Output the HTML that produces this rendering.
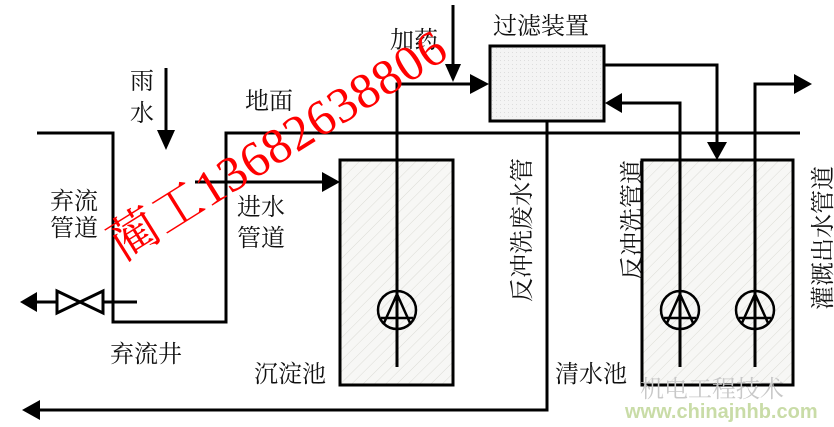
<!DOCTYPE html>
<html><head><meta charset="utf-8"><style>
html,body{margin:0;padding:0;background:#fff;}
svg{display:block;}
text{font-family:"Liberation Serif","Noto Serif CJK SC","Noto Sans CJK SC",serif;fill:#111;}
</style></head><body>
<svg width="834" height="427" viewBox="0 0 834 427" xmlns="http://www.w3.org/2000/svg">
<defs>
<pattern id="h" width="8" height="8" patternUnits="userSpaceOnUse" patternTransform="rotate(45)">
<rect width="8" height="8" fill="#f7f7f5"/><line x1="0" y1="0" x2="0" y2="8" stroke="#dcdcd6" stroke-width="1"/>
</pattern>
<pattern id="d" width="4" height="4" patternUnits="userSpaceOnUse">
<rect width="4" height="4" fill="#f4f4f4"/><rect width="1" height="1" fill="#ddd"/>
</pattern>
</defs>
<g stroke="#000" stroke-width="3" fill="none">
<polyline points="37,133 113,133 113,322 226,322 226,133 800,133"/>
<rect x="340" y="160" width="113" height="225" fill="url(#h)"/>
<rect x="642" y="160" width="151" height="225" fill="url(#h)"/>
<rect x="490" y="46" width="114" height="75" fill="url(#d)"/>
<line x1="166" y1="68" x2="166" y2="135"/>
<line x1="195" y1="182" x2="325" y2="182"/>
<polyline points="397,367 397,84 475,84"/>
<line x1="453" y1="5" x2="453" y2="68"/>
<polyline points="604,65 717,65 717,145"/>
<polyline points="680,367 680,103 620,103"/>
<polyline points="755,367 755,84 797,84"/>
<polyline points="547,121 547,410 38,410"/>
<line x1="137" y1="302" x2="103" y2="302"/>
<line x1="57" y1="302" x2="35" y2="302"/>
<polygon points="57,291 80,302 57,313" />
<polygon points="103,291 80,302 103,313" />
<g stroke-width="2.5">
<circle cx="397" cy="310" r="19"/><polyline points="384,323 397,294 410,323"/><line x1="381" y1="318" x2="413" y2="318"/>
<circle cx="680" cy="310" r="19"/><polyline points="667,323 680,294 693,323"/><line x1="664" y1="318" x2="696" y2="318"/>
<circle cx="755" cy="310" r="19"/><polyline points="742,323 755,294 768,323"/><line x1="739" y1="318" x2="771" y2="318"/>
</g>
</g>
<g fill="#000">
<polygon points="157,130 175,130 166,150"/>
<polygon points="322,172 322,192 340,182"/>
<polygon points="470,74 470,94 489,84"/>
<polygon points="445,64 461,64 453,82"/>
<polygon points="707,142 727,142 717,160"/>
<polygon points="622,93 622,113 605,103"/>
<polygon points="794,74 794,94 812,84"/>
<polygon points="40,400 40,420 22,410"/>
<polygon points="37,292 37,312 20,302"/>
</g>
<g font-size="24">
<text x="130" y="89">雨</text><text x="130" y="121">水</text>
<text x="245" y="109">地面</text>
<text x="390" y="48">加药</text>
<text x="493" y="34">过滤装置</text>
<text x="237" y="215">进水</text><text x="237" y="246">管道</text>
<text x="50" y="209">弃流</text><text x="50" y="236">管道</text>
<text x="110" y="362">弃流井</text>
<text x="254" y="382">沉淀池</text>
<text x="555" y="382">清水池</text>
<text transform="translate(530,302) rotate(-90)">反冲洗废水管</text>
<text transform="translate(640,280) rotate(-90)">反冲洗管道</text>
<text transform="translate(831,310) rotate(-90)">灌溉出水管道</text>
</g>
<text transform="translate(122,262) rotate(-32)" font-size="50" letter-spacing="1" style="fill:#f00">蔺工13682638806</text>
<text x="640" y="397" font-size="24" style="fill:#c8c8c8">机电工程技术</text>
<text x="625" y="418" font-size="20" font-weight="bold" style="fill:#c9dca7;font-family:'Liberation Sans',sans-serif">www.chinajnhb.com</text>
</svg>
</body></html>
